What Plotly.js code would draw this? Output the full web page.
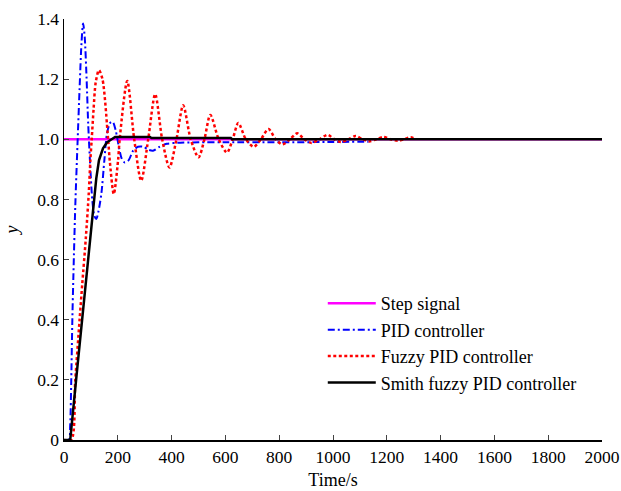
<!DOCTYPE html>
<html>
<head>
<meta charset="utf-8">
<script src="https://cdn.plot.ly/plotly-3.0.1.min.js"></script>
<style>html,body{margin:0;padding:0;background:#fff;}#chart{width:621px;height:491px;}</style>
</head>
<body>
<div id="chart"></div>
<script>
// Step signal
const stepT = [0, 2000];
const stepY = [1, 1];

// PID controller
const pidT = [0, 18, 23, 27, 31, 35, 42, 50, 58, 65, 71, 77, 84, 90, 97, 105, 113, 120, 128, 139, 150, 160, 172, 181, 192, 205, 215, 226, 240, 257, 275, 295, 315, 331, 355, 382, 420, 500, 600, 800, 1000, 1132];
const pidY = [0, 0, 0.05, 0.2, 0.4, 0.55, 0.78, 0.98, 1.17, 1.32, 1.385, 1.34, 1.2, 1.05, 0.92, 0.8, 0.745, 0.735, 0.76, 0.82, 0.93, 1.02, 1.055, 1.058, 1.03, 0.97, 0.935, 0.923, 0.93, 0.962, 0.975, 0.975, 0.965, 0.962, 0.975, 0.985, 0.988, 0.99, 0.99, 0.99, 0.991, 0.992];

// Fuzzy PID controller
const fuzzyT = [0, 27, 42, 58, 68, 81, 92, 98, 103, 110, 118, 130, 143, 164, 170, 185, 201, 207, 235, 261, 287, 313, 339, 365, 392, 418, 443, 471, 500, 522, 544, 575, 606, 627, 648, 676, 705, 732, 760, 787, 812, 840, 867, 893, 920, 950, 980, 1005, 1030, 1057, 1084, 1110, 1135, 1161, 1188, 1214, 1240, 1265, 1289, 1300];
const fuzzyY = [0, 0, 0.2, 0.4, 0.52, 0.67, 0.82, 0.93, 1.0, 1.1, 1.19, 1.23, 1.2, 1.0, 0.93, 0.818, 0.93, 1.0, 1.194, 1.0, 0.862, 1.0, 1.15, 1.0, 0.906, 1.0, 1.113, 1.0, 0.94, 1.0, 1.081, 1.0, 0.956, 1.0, 1.054, 1.0, 0.975, 1.0, 1.034, 1.0, 0.983, 1.0, 1.02, 1.0, 0.988, 1.0, 1.015, 1.0, 0.991, 1.0, 1.011, 1.0, 0.993, 1.0, 1.008, 1.0, 0.995, 1.0, 1.007, 1.003];

// Smith fuzzy PID controller
const smithT = [0, 23, 45, 67, 78, 96, 112, 120, 130, 145, 160, 175, 190, 320, 325, 620, 625, 2000];
const smithY = [0, 0, 0.2, 0.4, 0.5, 0.66, 0.8, 0.87, 0.93, 0.97, 0.99, 1.0, 1.008, 1.008, 1.004, 1.004, 1.0, 1.0];

const xTicks = [0, 200, 400, 600, 800, 1000, 1200, 1400, 1600, 1800, 2000];
const yTicks = [0, 0.2, 0.4, 0.6, 0.8, 1.0, 1.2, 1.4];
const yTickText = ['0', '0.2', '0.4', '0.6', '0.8', '1.0', '1.2', '1.4'];

const serif = '"Liberation Serif", "Times New Roman", Times, serif';

const traces = [
  {x: stepT, y: stepY, name: 'Step signal', mode: 'lines', legendgroup: 'a',
   line: {color: '#ff00ff', width: 2.5}},
  {x: pidT, y: pidY, name: 'PID controller', mode: 'lines', legendgroup: 'b',
   line: {color: '#0000ff', width: 2, dash: '7px,3px,2px,3px', shape: 'spline', smoothing: 0.8}},
  {x: fuzzyT, y: fuzzyY, name: 'Fuzzy PID controller', mode: 'lines', legendgroup: 'c',
   line: {color: '#ff0000', width: 2.5, dash: '3px,2.5px', shape: 'spline', smoothing: 0.8}},
  {x: smithT, y: smithY, name: 'Smith fuzzy PID controller', mode: 'lines', legendgroup: 'd',
   line: {color: '#000000', width: 2.5}}
];

const layout = {
  width: 621, height: 491,
  margin: {l: 64, r: 19, t: 19, b: 51},
  paper_bgcolor: '#fff', plot_bgcolor: '#fff',
  font: {family: serif, color: '#000', size: 17.5},
  showlegend: true,
  legend: {x: 0.481, y: 0.368, xanchor: 'left', yanchor: 'top',
    font: {family: serif, size: 18, color: '#000'}, bgcolor: 'rgba(0,0,0,0)',
    itemwidth: 48, tracegroupgap: 0},
  xaxis: {range: [0, 2000], tickvals: xTicks, ticks: 'inside', ticklen: 5, tickwidth: 1,
    showline: true, linecolor: '#000', linewidth: 1.5, showgrid: false, zeroline: false,
    tickfont: {family: serif, size: 17.5},
    title: {text: 'Time/s', font: {family: serif, size: 18}, standoff: 8}},
  yaxis: {range: [0, 1.4], tickvals: yTicks, ticktext: yTickText, ticks: 'inside', ticklen: 5, tickwidth: 1,
    showline: true, linecolor: '#000', linewidth: 1.5, showgrid: false, zeroline: false,
    tickfont: {family: serif, size: 17.5},
    title: {text: '<i>y</i>', font: {family: serif, size: 18}, standoff: 14}}
};

Plotly.newPlot('chart', traces, layout, {displayModeBar: false, staticPlot: true});
</script>
</body>
</html>
